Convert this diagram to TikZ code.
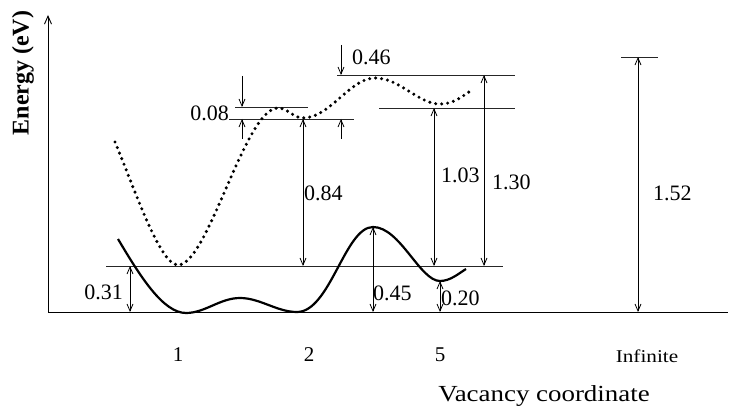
\documentclass[tikz,border=0pt]{standalone}
\usepackage{fontspec}
\setmainfont{Liberation Serif}
\usetikzlibrary{arrows.meta}

\begin{document}
\begin{tikzpicture}[
  x=1pt, y=-1pt,
  font=\fontsize{22}{24}\selectfont,
  level/.style={line width=0.9pt, draw=black!85},
  dim/.style={{Straight Barb[length=7pt,width=6pt]}-{Straight Barb[length=7pt,width=6pt]}, line width=0.8pt},
  onearrow/.style={-{Straight Barb[length=7pt,width=6pt]}, line width=0.8pt},
  axis/.style={-{Straight Barb[length=8pt,width=7pt]}, line width=0.9pt},
  mono/.style={line width=2.2pt, line join=round},
  di/.style={line width=3.4pt, dash pattern=on 0pt off 6pt, line cap=round},
  num/.style={inner sep=0pt},
  site/.style={font=\fontsize{21}{23}\selectfont, inner sep=0pt}
]
\useasboundingbox (0,0) rectangle (730,414);

% axes
\coordinate (origin) at (48,312);
\coordinate (ytop) at (48,15);
\coordinate (xend) at (728,312);
\draw[axis] (origin) -- (ytop);
\draw[line width=0.9pt] (origin) -- (xend);
\node[rotate=90, font=\fontsize{24}{26}\selectfont\bfseries] (ylab) at (23,73) {Energy (eV)};
\node[inner sep=0pt] (xlab) at (544,396) {\scalebox{1.17}[1]{\fontsize{23}{25}\selectfont Vacancy coordinate}};

% sites
\node[site] (s1) at (178,355) {1};
\node[site] (s2) at (309,355) {2};
\node[site] (s5) at (440,355) {5};
\node[site, font=\fontsize{18}{20}\selectfont] (sinf) at (647,356) {\scalebox{1.18}[1]{Infinite}};

% reference levels
\draw[level] (106,266) -- (503,266);
\draw[level] (235,107) -- (308,107);
\draw[level] (229,119) -- (354,119);
\draw[level] (337,75) -- (515,75);
\draw[level] (379,108) -- (515,108);
\draw[level] (621,57) -- (658,57);

% monovacancy curve
\draw[mono] (118,239) .. controls (140,276) and (163,313) .. (186,313)
  .. controls (205,313) and (220,298) .. (240,298)
  .. controls (260,298) and (277,312) .. (297,312)
  .. controls (330,312) and (345,227) .. (373,227)
  .. controls (400,227) and (420,281) .. (440,281)
  .. controls (450,281) and (458,274) .. (466,269);

% divacancy curve
\draw[di] (115,142) .. controls (135,190) and (160,265) .. (178,265)
  .. controls (208,265) and (245,108) .. (278,108)
  .. controls (288,108) and (293,118) .. (303,118)
  .. controls (330,118) and (350,78) .. (375,78)
  .. controls (400,78) and (418,104) .. (440,104)
  .. controls (452,104) and (460,98) .. (469,92);

% dimension ends
\coordinate (a031) at (130,266); \coordinate (b031) at (130,312);
\coordinate (a08t) at (242,76);  \coordinate (b08t) at (242,107);
\coordinate (a08l) at (242,139); \coordinate (b08l) at (242,119);
\coordinate (a08r) at (341,139); \coordinate (b08r) at (341,119);
\coordinate (a046) at (341,45);  \coordinate (b046) at (341,75);
\coordinate (a084) at (303,119); \coordinate (b084) at (303,266);
\coordinate (a103) at (434,108); \coordinate (b103) at (434,266);
\coordinate (a130) at (484,75);  \coordinate (b130) at (484,266);
\coordinate (a045) at (373,227); \coordinate (b045) at (373,312);
\coordinate (a020) at (440,281); \coordinate (b020) at (440,312);
\coordinate (a152) at (638,57);  \coordinate (b152) at (638,312);

\draw[dim] (a031) -- (b031);
\draw[onearrow] (a08t) -- (b08t);
\draw[onearrow] (a08l) -- (b08l);
\draw[onearrow] (a08r) -- (b08r);
\draw[onearrow] (a046) -- (b046);
\draw[dim] (a084) -- (b084);
\draw[dim] (a103) -- (b103);
\draw[dim] (a130) -- (b130);
\draw[dim] (a045) -- (b045);
\draw[dim] (a020) -- (b020);
\draw[dim] (a152) -- (b152);

% values
\node[num, anchor=east] (v031) at (123,292) {0.31};
\node[num, anchor=east] (v008) at (229,113) {0.08};
\node[num, anchor=west] (v046) at (352,57) {0.46};
\node[num, anchor=west] (v084) at (304,193) {0.84};
\node[num, anchor=west] (v103) at (441,175) {1.03};
\node[num, anchor=west] (v130) at (492,182) {1.30};
\node[num, anchor=west] (v045) at (373,293) {0.45};
\node[num, anchor=west] (v020) at (441,298) {0.20};
\node[num, anchor=west] (v152) at (653,193) {1.52};

\end{tikzpicture}
\end{document}
